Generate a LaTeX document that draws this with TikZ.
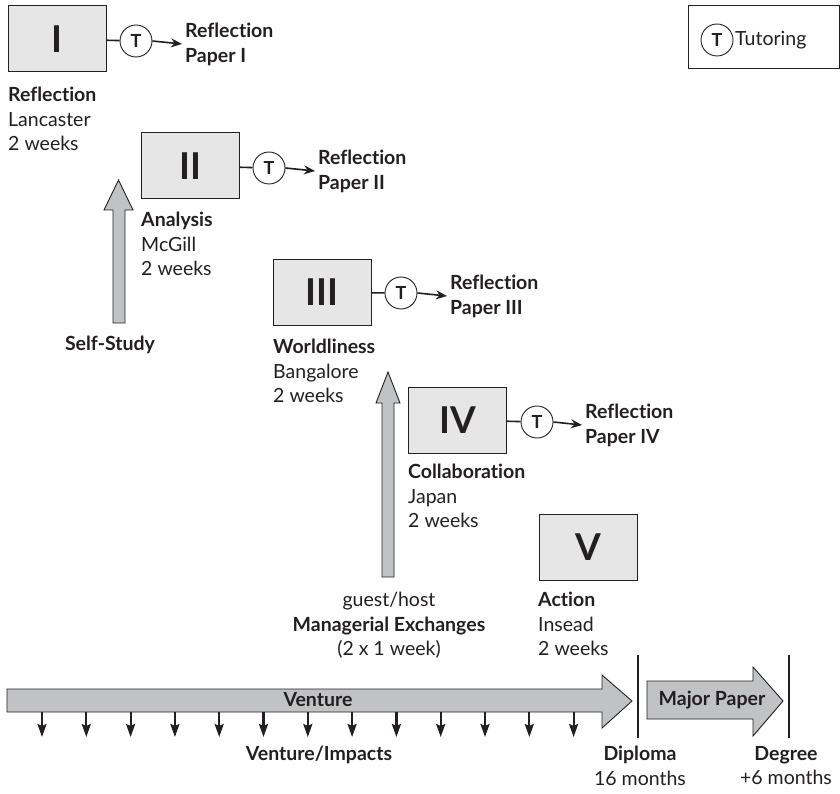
\documentclass[tikz,border=0pt]{standalone}
\usepackage{fontspec}
\setmainfont{Lato}[Ligatures={NoCommon,NoContextual}]
\usetikzlibrary{arrows.meta}
\definecolor{ink}{HTML}{231F20}
\definecolor{boxfill}{HTML}{E6E6E7}
\definecolor{arrowfill}{HTML}{C1C2C4}
\tikzset{
  stage/.style={draw=ink, line width=1pt, fill=boxfill, minimum width=98, minimum height=66, inner sep=0, font=\fontsize{37}{37}\selectfont\bfseries, text=ink},
  tut/.style={circle, draw=ink, line width=0.9pt, fill=white, minimum size=32, inner sep=0, font=\fontsize{18}{18}\selectfont\bfseries, text=ink},
  ptxt/.style={anchor=west, align=left, font=\fontsize{19.5}{25}\selectfont\bfseries, inner sep=0, text=ink},
  lbl/.style={anchor=north west, align=left, font=\fontsize{19.5}{24.5}\selectfont, inner sep=0, text=ink},
  clbl/.style={anchor=north, align=center, font=\fontsize{19.5}{24.5}\selectfont, inner sep=0, text=ink},
  btxt/.style={font=\fontsize{19.5}{20}\selectfont\bfseries, inner sep=0, text=ink},
  blockarrow/.style={draw=ink, line width=0.9pt, fill=arrowfill},
  tlink/.style={draw=ink, line width=1.6pt},
  tarrow/.style={draw=ink, line width=1.6pt, -{Stealth[length=11pt,width=9pt]}},
  downarrow/.style={draw=ink, line width=2.2pt, -{Stealth[length=13pt,width=9pt,inset=2pt]}},
  mark line/.style={draw=ink, line width=1.6pt}
}
\begin{document}
\begin{tikzpicture}[x=1pt,y=-1pt]
\useasboundingbox (0,0) rectangle (840,794);

% legend
\node[draw=ink, line width=0.9pt, minimum width=151, minimum height=63, inner sep=0] (legend) at (763.5,36.5) {};
\node[tut] (tl) at (717,40) {T};
\node[anchor=west, font=\fontsize{19.5}{20}\selectfont, inner sep=0, text=ink] (tltxt) at (735,40) {Tutoring};

% stages
\node[stage] (s1) at (57,39) {I};
\node[stage] (s2) at (190,166) {II};
\node[stage] (s3) at (322,292.5) {III};
\node[stage] (s4) at (457.5,420) {IV};
\node[stage] (s5) at (588,547) {V};

% tutoring circles
\node[tut] (t1) at (136,41) {T};
\node[tut] (t2) at (269,168) {T};
\node[tut] (t3) at (401,293) {T};
\node[tut] (t4) at (537,422) {T};

% reflection papers
\node[ptxt] (p1) at (185,44) {Reflection\\Paper I};
\node[ptxt] (p2) at (318,171) {Reflection\\Paper II};
\node[ptxt] (p3) at (450,296) {Reflection\\Paper III};
\node[ptxt] (p4) at (585,425) {Reflection\\Paper IV};

\foreach \i in {1,2,3,4}{
  \draw[tlink] (s\i) -- (t\i);
  \draw[tarrow] (t\i.east) -- ([xshift=-3pt]p\i.west);
}

% stage labels
\node[lbl] (l1) at (8,87) {\textbf{Reflection}\\Lancaster\\2 weeks};
\node[lbl] (l2) at (141,212) {\textbf{Analysis}\\McGill\\2 weeks};
\node[lbl] (l3) at (273,339) {\textbf{Worldliness}\\Bangalore\\2 weeks};
\node[lbl] (l4) at (408,464) {\textbf{Collaboration}\\Japan\\2 weeks};
\node[lbl] (l5) at (538,592) {\textbf{Action}\\Insead\\2 weeks};

% self-study arrow
\draw[blockarrow] (113,323) -- (113,210) -- (104,210) -- (118.5,180) -- (133,210) -- (125,210) -- (125,323) -- cycle;
\node[btxt] (ss) at (110,345) {Self-Study};

% managerial exchanges arrow
\draw[blockarrow] (382,577) -- (382,403) -- (376,403) -- (388,372) -- (400,403) -- (394,403) -- (394,577) -- cycle;
\node[clbl] (me) at (389,592) {guest/host\\\textbf{Managerial Exchanges}\\(2 x 1 week)};

% venture arrow
\draw[blockarrow] (7,689) -- (602,689) -- (602,675) -- (632,701) -- (602,728) -- (602,712) -- (7,712) -- cycle;
\node[btxt] (vt) at (318,700) {Venture};
\foreach \k in {0,...,12}{
  \coordinate (va\k) at ({42+44.3*\k},712);
  \coordinate (vb\k) at ({42+44.3*\k},737);
  \draw[downarrow] (va\k) -- (vb\k);
}
\node[btxt] (vi) at (319,755) {Venture/Impacts};

% diploma / degree marks
\coordinate (d1) at (638,655);
\coordinate (d2) at (638,738);
\draw[mark line] (d1) -- (d2);
\coordinate (g1) at (789,655);
\coordinate (g2) at (789,738);
\draw[mark line] (g1) -- (g2);

% major paper arrow
\draw[blockarrow] (647,681) -- (753,681) -- (753,667) -- (783,701) -- (753,736) -- (753,719) -- (647,719) -- cycle;
\node[btxt] (mp) at (712,700) {Major Paper};

\node[clbl] (dip) at (640,746) {\textbf{Diploma}\\16 months};
\node[clbl] (deg) at (786,746) {\textbf{Degree}\\+6 months};
\end{tikzpicture}
\end{document}
